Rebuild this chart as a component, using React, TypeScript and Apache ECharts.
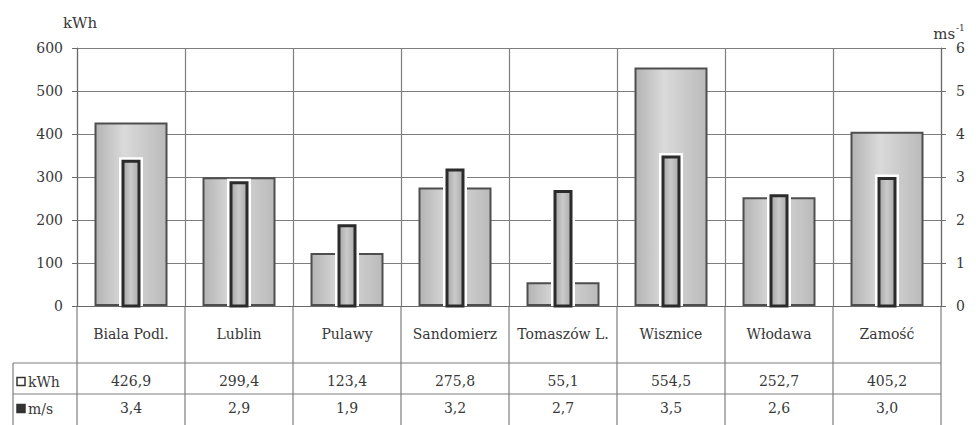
import React, { useEffect, useRef } from "react";
import * as echarts from "echarts";

// Stations and their measured values
const categories = [
  "Biala Podl.",
  "Lublin",
  "Pulawy",
  "Sandomierz",
  "Tomaszów L.",
  "Wisznice",
  "Włodawa",
  "Zamość",
];
const energyKWh = [426.9, 299.4, 123.4, 275.8, 55.1, 554.5, 252.7, 405.2];
const windMs = [3.4, 2.9, 1.9, 3.2, 2.7, 3.5, 2.6, 3.0];

const energyAxis = { min: 0, max: 600, interval: 100 };
const windAxis = { min: 0, max: 6, interval: 1 };

const rowHeaders = ["kWh", "m/s"];

// layout
const W = 976;
const H = 425;
const GRID_LEFT = 77;
const GRID_RIGHT_X = 941;
const GRID_TOP = 48;
const GRID_BOTTOM_Y = 306;
const TABLE_LEFT = 13;
const ROW1_Y = 363;
const ROW2_Y = 394;

const FONT = "DejaVu Serif";
const TEXT = "#383838";
const LINE = "#7e7e7e";

const fmt = (v: number) => v.toFixed(1).replace(".", ",");

export default function App() {
  const ref = useRef<HTMLDivElement>(null);

  useEffect(() => {
    if (!ref.current) return;
    const chart = echarts.init(ref.current, undefined, { renderer: "svg" });

    const colW = (GRID_RIGHT_X - GRID_LEFT) / categories.length;

    const tableLines: any[] = [];
    // horizontal row separators of the table under the chart
    [ROW1_Y, ROW2_Y].forEach((y) =>
      tableLines.push({
        type: "line",
        shape: { x1: TABLE_LEFT, y1: y, x2: GRID_RIGHT_X, y2: y },
        style: { stroke: LINE, lineWidth: 1.2 },
      })
    );
    tableLines.push({
      type: "line",
      shape: { x1: TABLE_LEFT, y1: ROW1_Y, x2: TABLE_LEFT, y2: H },
      style: { stroke: LINE, lineWidth: 1.2 },
    });
    for (let k = 0; k <= categories.length; k++) {
      const x = GRID_LEFT + k * colW;
      tableLines.push({
        type: "line",
        shape: { x1: x, y1: GRID_BOTTOM_Y, x2: x, y2: H },
        style: { stroke: LINE, lineWidth: 1.2 },
      });
    }

    // row headers with their key swatches
    const headerY = [(ROW1_Y + ROW2_Y) / 2 + 3, (ROW2_Y + H) / 2 - 1];
    const headers: any[] = [];
    rowHeaders.forEach((label, i) => {
      headers.push({
        type: "rect",
        shape: { x: 17, y: headerY[i] - 4, width: 8, height: 8 },
        style:
          i === 0
            ? { fill: "#ffffff", stroke: "#333", lineWidth: 1.5 }
            : { fill: "#333", stroke: "#333", lineWidth: 1.5 },
      });
      headers.push({
        type: "text",
        x: 28,
        y: headerY[i],
        style: {
          text: label,
          fill: TEXT,
          font: `14px "${FONT}"`,
          verticalAlign: "middle",
          align: "left",
        },
      });
    });

    const barFill = new echarts.graphic.LinearGradient(0, 0, 1, 0, [
      { offset: 0, color: "#b4b4b4" },
      { offset: 0.4, color: "#dadada" },
      { offset: 1, color: "#bababa" },
    ]);
    const windFill = new echarts.graphic.LinearGradient(0, 0, 1, 0, [
      { offset: 0, color: "#a8a8a8" },
      { offset: 0.5, color: "#cacaca" },
      { offset: 1, color: "#aaaaaa" },
    ]);

    const labelStyle = {
      fontFamily: FONT,
      fontSize: 14,
      color: TEXT,
    };

    const valueRowAxis = (data: string[], margin: number) => ({
      type: "category",
      gridIndex: 0,
      position: "bottom",
      data,
      axisLine: { show: false },
      axisTick: { show: false },
      splitLine: { show: false },
      axisLabel: { ...labelStyle, margin, interval: 0 },
    });

    chart.setOption({
      animation: false,
      backgroundColor: "#ffffff",
      grid: {
        left: GRID_LEFT,
        right: W - GRID_RIGHT_X,
        top: GRID_TOP,
        bottom: H - GRID_BOTTOM_Y,
        containLabel: false,
      },
      xAxis: [
        {
          type: "category",
          gridIndex: 0,
          position: "bottom",
          data: categories,
          axisLine: { show: true, lineStyle: { color: "#6a6a6a", width: 1.2 } },
          axisTick: { show: false },
          splitLine: { show: true, lineStyle: { color: LINE, width: 1.2 } },
          axisLabel: { ...labelStyle, margin: 21, interval: 0 },
        },
        valueRowAxis(energyKWh.map(fmt), 68),
        valueRowAxis(windMs.map(fmt), 95),
      ],
      yAxis: [
        {
          type: "value",
          position: "left",
          ...energyAxis,
          name: "kWh",
          nameLocation: "end",
          nameGap: 25,
          nameTextStyle: {
            fontFamily: FONT,
            fontSize: 15,
            color: TEXT,
            align: "center",
            verticalAlign: "middle",
            padding: [0, 0, 0, 6],
          },
          axisLine: { show: true, lineStyle: { color: "#6a6a6a", width: 1.2 } },
          axisTick: { show: true, inside: false, length: 5, lineStyle: { color: "#6a6a6a" } },
          splitLine: { show: true, lineStyle: { color: LINE, width: 1.2 } },
          axisLabel: { ...labelStyle, margin: 14 },
        },
        {
          type: "value",
          position: "right",
          ...windAxis,
          name: "{b|ms}{s|-1}",
          nameLocation: "end",
          nameGap: 14,
          nameTextStyle: {
            align: "center",
            verticalAlign: "middle",
            padding: [0, 0, 0, 16],
            rich: {
              b: { fontFamily: FONT, fontSize: 15, color: TEXT },
              s: {
                fontFamily: FONT,
                fontSize: 9,
                color: TEXT,
                padding: [0, 0, 12, 1],
              },
            },
          },
          axisLine: { show: true, lineStyle: { color: "#6a6a6a", width: 1.2 } },
          axisTick: { show: true, inside: false, length: 5, lineStyle: { color: "#6a6a6a" } },
          splitLine: { show: false },
          axisLabel: { ...labelStyle, margin: 15 },
        },
      ],
      series: [
        {
          name: "kWh",
          type: "bar",
          xAxisIndex: 0,
          yAxisIndex: 0,
          data: energyKWh,
          barWidth: 73,
          itemStyle: {
            color: barFill,
            borderColor: "#4e4e4e",
            borderWidth: 2,
          },
          z: 2,
        },
        {
          name: "m/s",
          type: "custom",
          xAxisIndex: 0,
          yAxisIndex: 1,
          data: windMs.map((v, i) => [i, v]),
          z: 3,
          renderItem: (params: any, api: any) => {
            const idx = api.value(0);
            const v = api.value(1);
            const top = api.coord([idx, v]);
            const base = api.coord([idx, 0]);
            const w = 19;
            const x = top[0] - w / 2;
            const h = base[1] - top[1];
            return {
              type: "group",
              children: [
                {
                  type: "rect",
                  shape: { x: x - 2.5, y: top[1] - 2.5, width: w + 5, height: h + 2.5 },
                  style: { fill: "#ffffff" },
                },
                {
                  type: "rect",
                  shape: { x: x + 1.5, y: top[1] + 1.5, width: w - 3, height: h - 1.5 },
                  style: { fill: windFill, stroke: "#2b2b2b", lineWidth: 3 },
                },
              ],
            };
          },
        },
      ],
      graphic: [...tableLines, ...headers],
    });

    return () => chart.dispose();
  }, []);

  return (
    <div
      ref={ref}
      style={{
        position: "fixed",
        left: 0,
        top: 0,
        width: W,
        height: H,
        background: "#ffffff",
      }}
    />
  );
}
